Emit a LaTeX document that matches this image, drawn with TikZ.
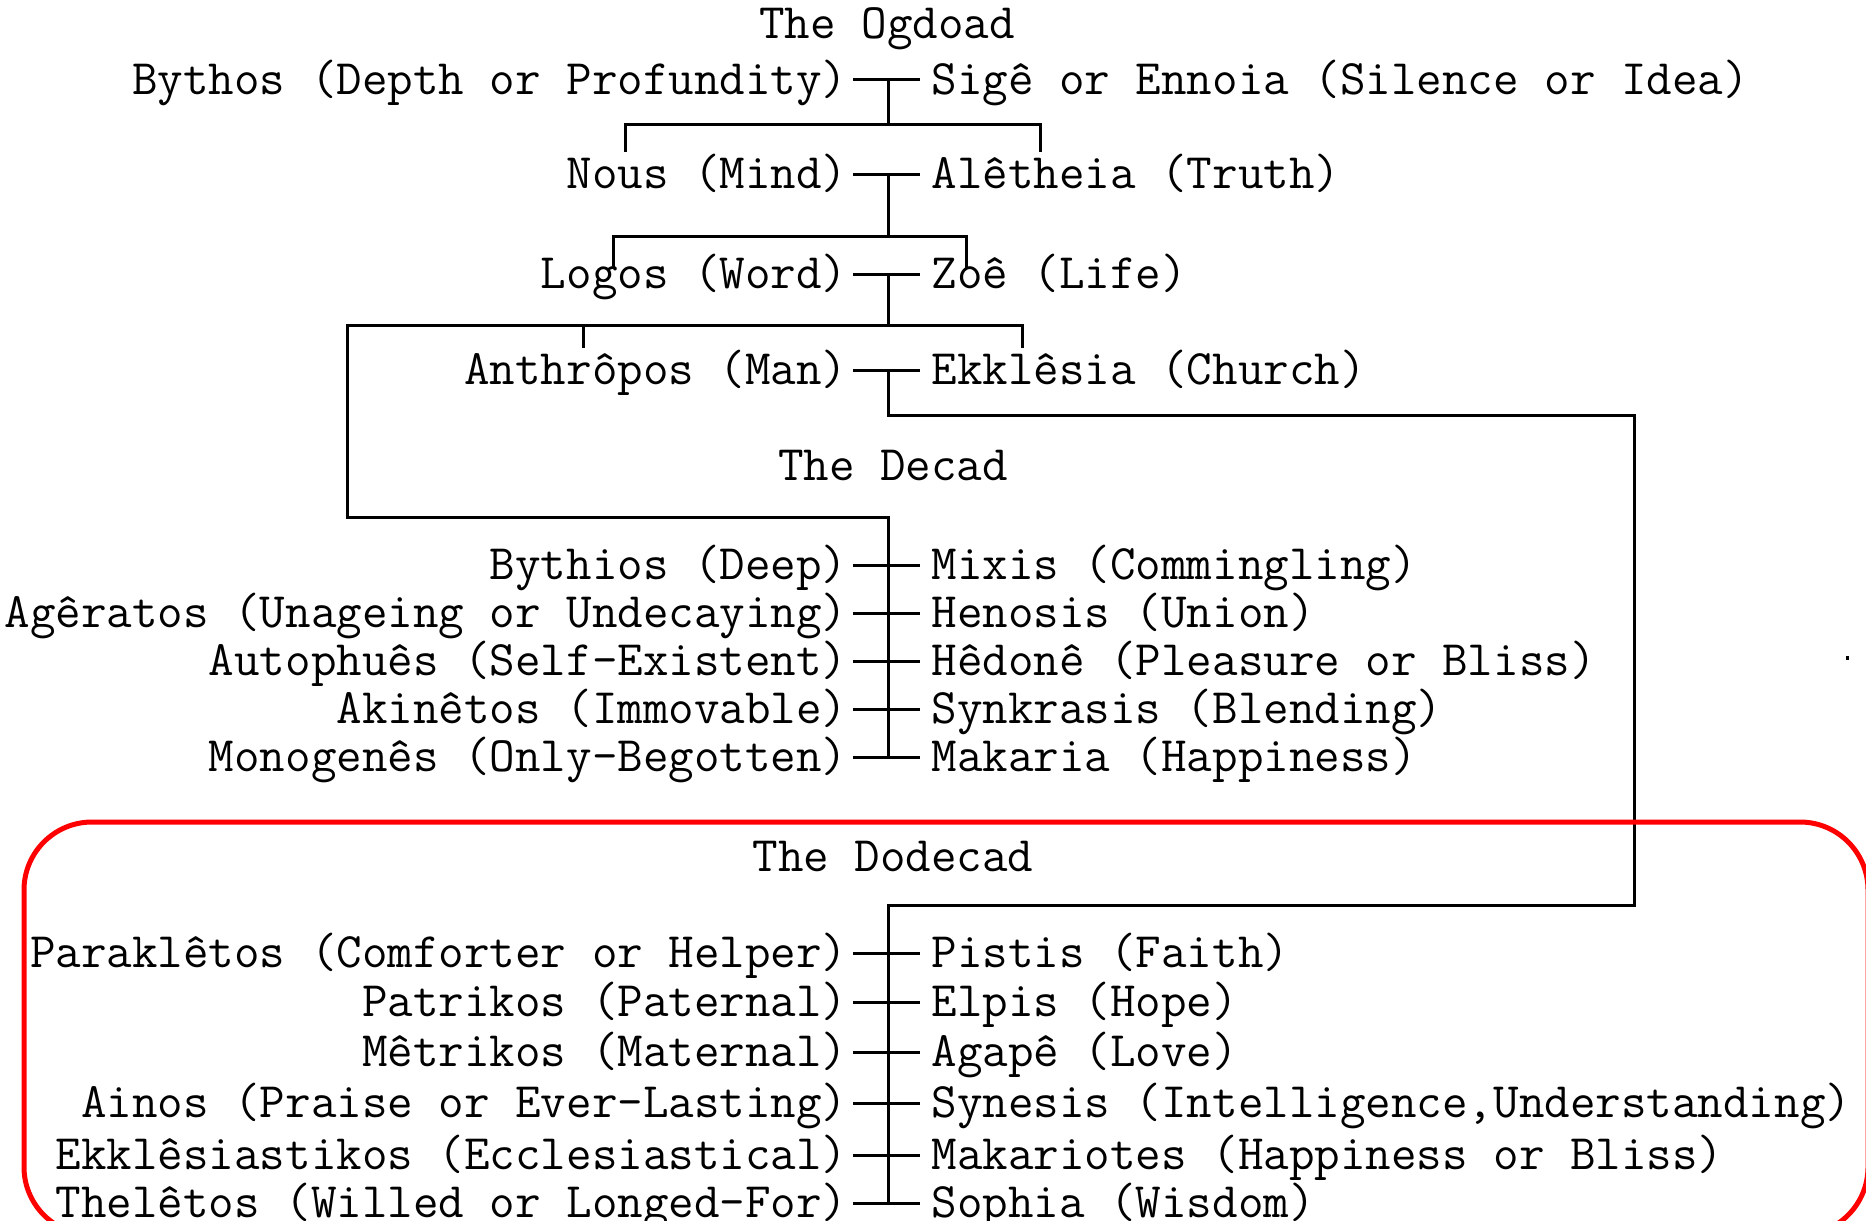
\documentclass[tikz,border=0pt]{standalone}
\usepackage{fontspec}

\begin{document}
\begin{tikzpicture}[x=0.5pt, y=-0.5pt, line width=1.5pt,
every node/.style = {font=\fontsize{24.8}{26}\selectfont\ttfamily, inner xsep=2pt, inner ysep=0pt, text height=14.7pt, text depth=0pt},
lname/.style = {anchor=east},
rname/.style = {anchor=west, inner xsep=5pt},
frame/.style = {draw=red, line width=2.5pt, rounded corners=34pt}]
\useasboundingbox (0,0) rectangle (1866,1220);
\clip (0,0) rectangle (1866,1220);

\node at (887,24) (ogdoad) {The Ogdoad};
\node[lname] at (853,80) (bythos) {Bythos (Depth or Profundity)};
\node[rname] at (920,80) (sige) {Sigê or Ennoia (Silence or Idea)};
\node[lname] at (853,174) (nous) {Nous (Mind)};
\node[rname] at (920,174) (aletheia) {Alêtheia (Truth)};
\node[lname] at (853,274) (logos) {Logos (Word)};
\node[rname] at (920,274) (zoe) {Zoê (Life)};
\node[lname] at (853,370) (anthropos) {Anthrôpos (Man)};
\node[rname] at (920,370) (ekklesia) {Ekklêsia (Church)};

\node at (893,466) (decad) {The Decad};
\node[lname] at (853,565) (bythios) {Bythios (Deep)};
\node[rname] at (920,565) (mixis) {Mixis (Commingling)};
\node[lname] at (853,613) (ageratos) {Agêratos (Unageing or Undecaying)};
\node[rname] at (920,613) (henosis) {Henosis (Union)};
\node[lname] at (853,661) (autophues) {Autophuês (Self-Existent)};
\node[rname] at (920,661) (hedone) {Hêdonê (Pleasure or Bliss)};
\node[lname] at (853,709) (akinetos) {Akinêtos (Immovable)};
\node[rname] at (920,709) (synkrasis) {Synkrasis (Blending)};
\node[lname] at (853,757) (monogenes) {Monogenês (Only-Begotten)};
\node[rname] at (920,757) (makaria) {Makaria (Happiness)};

\node at (893,857) (dodecad) {The Dodecad};
\node[lname] at (853,953) (parakletos) {Paraklêtos (Comforter or Helper)};
\node[rname] at (920,953) (pistis) {Pistis (Faith)};
\node[lname] at (853,1002) (patrikos) {Patrikos (Paternal)};
\node[rname] at (920,1002) (elpis) {Elpis (Hope)};
\node[lname] at (853,1052) (metrikos) {Mêtrikos (Maternal)};
\node[rname] at (920,1052) (agape) {Agapê (Love)};
\node[lname] at (853,1103) (ainos) {Ainos (Praise or Ever-Lasting)};
\node[rname] at (920,1103) (synesis) {Synesis (Intelligence,Understanding)};
\node[lname] at (853,1155) (ekklesiastikos) {Ekklêsiastikos (Ecclesiastical)};
\node[rname] at (920,1155) (makariotes) {Makariotes (Happiness or Bliss)};
\node[lname] at (853,1203) (theletos) {Thelêtos (Willed or Longed-For)};
\node[rname] at (920,1203) (sophia) {Sophia (Wisdom)};

\coordinate (j1) at (888,124);
\coordinate (j2) at (888,236);
\coordinate (j3) at (888,325);
\coordinate (j4) at (888,415);
\coordinate (t1) at (625,152);
\coordinate (t2) at (1040,152);
\coordinate (t3) at (613,268);
\coordinate (t4) at (966,268);
\coordinate (t5) at (583,348);
\coordinate (t6) at (1022,348);
\coordinate (k1) at (347,325);
\coordinate (d0) at (888,517);
\coordinate (r1) at (1634,415);
\coordinate (dd0) at (888,905);

\draw (bythos) -- (sige);
\draw (nous) -- (aletheia);
\draw (logos) -- (zoe);
\draw (anthropos) -- (ekklesia);
\draw (bythios) -- (mixis);
\draw (ageratos) -- (henosis);
\draw (autophues) -- (hedone);
\draw (akinetos) -- (synkrasis);
\draw (monogenes) -- (makaria);
\draw (parakletos) -- (pistis);
\draw (patrikos) -- (elpis);
\draw (metrikos) -- (agape);
\draw (ainos) -- (synesis);
\draw (ekklesiastikos) -- (makariotes);
\draw (theletos) -- (sophia);

\draw (bythos -| j1) -- (j1);
\draw (t1) |- (j1) -| (t2);
\draw (nous -| j2) -- (j2);
\draw (t3) |- (j2) -| (t4);
\draw (logos -| j3) -- (j3);
\draw (t6) |- (k1) |- (d0) -- (d0 |- monogenes);
\draw (t5) -- (t5 |- k1);
\draw (anthropos -| j4) -- (j4) -- (r1) |- (dd0) -- (dd0 |- theletos);

\draw[frame] (24,822) rectangle (1868,1235);
\fill (1846,656) rectangle (1849,660);
\end{tikzpicture}
\end{document}
